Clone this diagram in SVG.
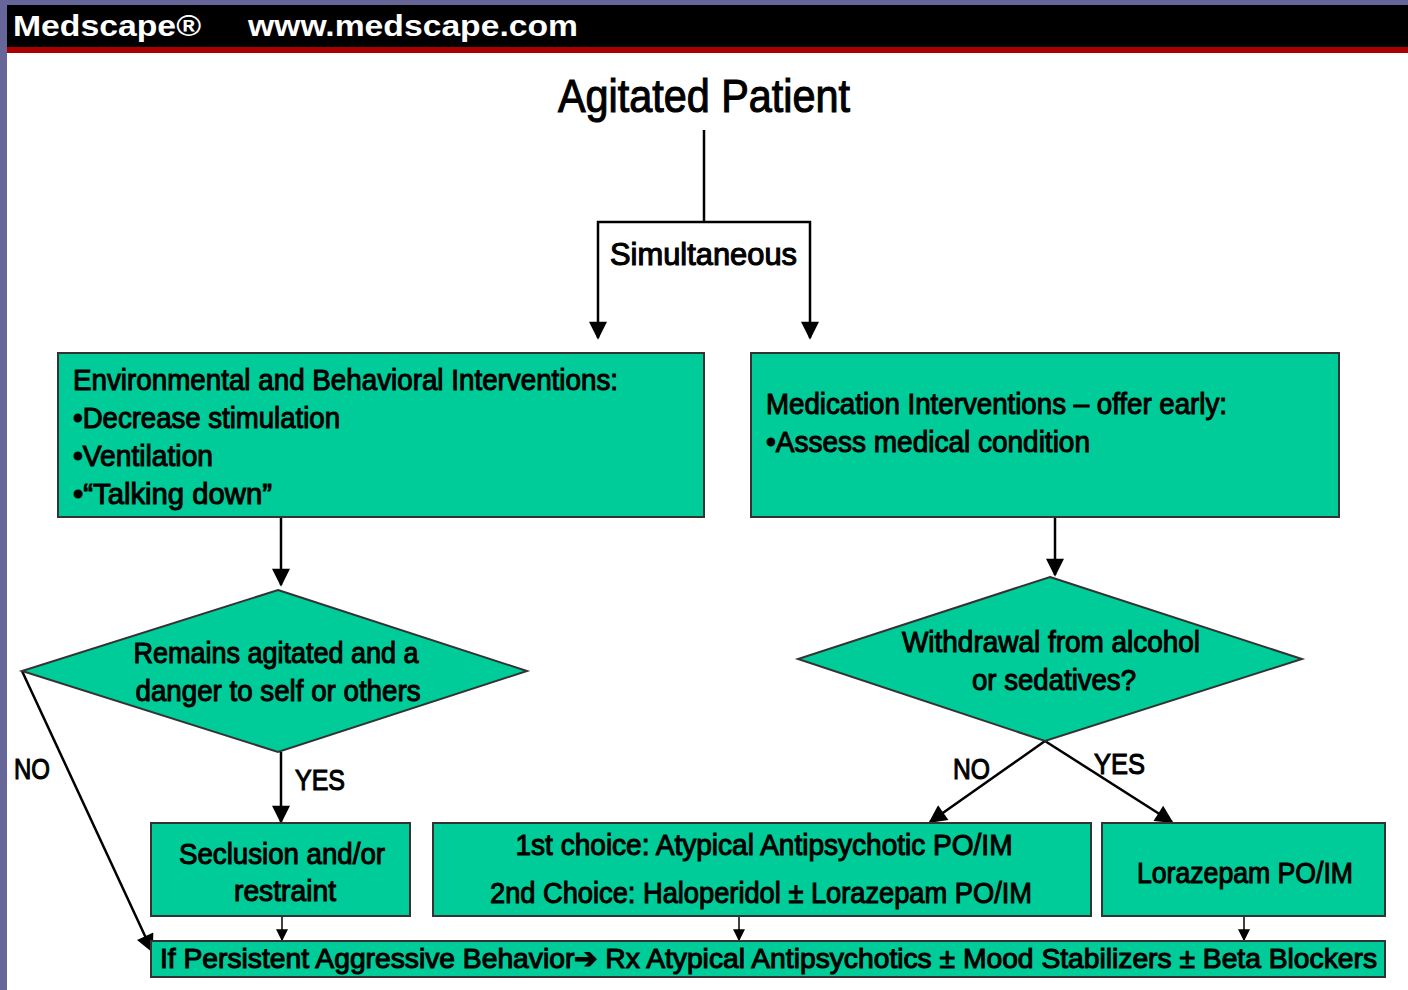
<svg xmlns="http://www.w3.org/2000/svg" width="1408" height="990" viewBox="0 0 1408 990">
  <style>
    .node { fill: #00cc99; stroke: #333333; stroke-width: 2; }
    .t { font-family: "Liberation Sans", Arial, sans-serif; fill: #000; stroke: #000; stroke-width: 1.1; }
    .lbl { font-size: 30px; }
    .wire { fill: none; stroke: #000; stroke-width: 2.5; }
    .thin { fill: none; stroke: #000; stroke-width: 1.5; }
  </style>
  <defs>
    <marker id="ahL" viewBox="0 0 10 10" refX="9" refY="5" markerWidth="20" markerHeight="18" markerUnits="userSpaceOnUse" orient="auto">
      <path d="M0,0 L10,5 L0,10 Z" fill="#000"/>
    </marker>
    <marker id="ahS" viewBox="0 0 10 10" refX="9" refY="5" markerWidth="13" markerHeight="12" markerUnits="userSpaceOnUse" orient="auto">
      <path d="M0,0 L10,5 L0,10 Z" fill="#000"/>
    </marker>
  </defs>

  <!-- page frame and header band -->
  <rect x="0" y="0" width="1408" height="990" fill="#ffffff"/>
  <rect x="0" y="0" width="1408" height="5" fill="#666699"/>
  <rect x="0" y="0" width="7" height="990" fill="#666699"/>
  <rect x="7" y="5" width="1401" height="42" fill="#000000"/>
  <rect x="7" y="47" width="1401" height="6" fill="#aa0000"/>
  <g id="header" font-family="Liberation Sans, Arial, sans-serif" font-weight="bold" font-size="30" fill="#ffffff">
    <text x="13" y="36" textLength="188" lengthAdjust="spacingAndGlyphs">Medscape®</text>
    <text x="248" y="36" textLength="330" lengthAdjust="spacingAndGlyphs">www.medscape.com</text>
  </g>

  <!-- title -->
  <g id="title">
    <text class="t" x="558" y="112" font-size="46" textLength="292" lengthAdjust="spacingAndGlyphs">Agitated Patient</text>
  </g>

  <!-- connectors -->
  <g id="connectors">
    <path class="wire" d="M704,130 V222"/>
    <path class="wire" d="M704,222 H598 V338" marker-end="url(#ahL)"/>
    <path class="wire" d="M704,222 H810 V338" marker-end="url(#ahL)"/>
    <path class="wire" d="M281,517 V585" marker-end="url(#ahL)"/>
    <path class="wire" d="M1055,517 V575" marker-end="url(#ahL)"/>
    <path class="wire" d="M281,752 V822" marker-end="url(#ahL)"/>
    <path class="wire" d="M22,671 L152,951" marker-end="url(#ahL)"/>
    <path class="wire" d="M1045,741 L930,822" marker-end="url(#ahL)"/>
    <path class="wire" d="M1045,741 L1172,822" marker-end="url(#ahL)"/>
    <path class="thin" d="M282,916 V940" marker-end="url(#ahS)"/>
    <path class="thin" d="M739,916 V940" marker-end="url(#ahS)"/>
    <path class="thin" d="M1244,916 V940" marker-end="url(#ahS)"/>
    <text class="t" x="610" y="265" font-size="31" textLength="187" lengthAdjust="spacingAndGlyphs">Simultaneous</text>
    <text class="t lbl" x="295" y="790" textLength="50" lengthAdjust="spacingAndGlyphs">YES</text>
    <text class="t lbl" x="14" y="779" textLength="36" lengthAdjust="spacingAndGlyphs">NO</text>
    <text class="t lbl" x="953" y="779" textLength="37" lengthAdjust="spacingAndGlyphs">NO</text>
    <text class="t lbl" x="1094" y="774" textLength="51" lengthAdjust="spacingAndGlyphs">YES</text>
  </g>

  <!-- nodes -->
  <g id="env-behavioral">
    <rect class="node" x="58" y="353" width="646" height="164"/>
    <text class="t lbl" x="73" y="390" textLength="545" lengthAdjust="spacingAndGlyphs">Environmental and Behavioral Interventions:</text>
    <text class="t lbl" x="73" y="428" textLength="267" lengthAdjust="spacingAndGlyphs">•Decrease stimulation</text>
    <text class="t lbl" x="73" y="466" textLength="140" lengthAdjust="spacingAndGlyphs">•Ventilation</text>
    <text class="t lbl" x="73" y="504" textLength="199" lengthAdjust="spacingAndGlyphs">•“Talking down”</text>
  </g>

  <g id="medication">
    <rect class="node" x="751" y="353" width="588" height="164"/>
    <text class="t lbl" x="766" y="414" textLength="461" lengthAdjust="spacingAndGlyphs">Medication Interventions – offer early:</text>
    <text class="t lbl" x="766" y="452" textLength="324" lengthAdjust="spacingAndGlyphs">•Assess medical condition</text>
  </g>

  <g id="danger-decision">
    <polygon class="node" points="278,590 527,671 278,752 22,671"/>
    <text class="t lbl" x="276" y="663" text-anchor="middle" textLength="285" lengthAdjust="spacingAndGlyphs">Remains agitated and a</text>
    <text class="t lbl" x="278" y="701" text-anchor="middle" textLength="285" lengthAdjust="spacingAndGlyphs">danger to self or others</text>
  </g>

  <g id="withdrawal-decision">
    <polygon class="node" points="1050,577 1302,659 1045,741 798,659"/>
    <text class="t lbl" x="1051" y="652" text-anchor="middle" textLength="298" lengthAdjust="spacingAndGlyphs">Withdrawal from alcohol</text>
    <text class="t lbl" x="1054" y="690" text-anchor="middle" textLength="164" lengthAdjust="spacingAndGlyphs">or sedatives?</text>
  </g>

  <g id="seclusion">
    <rect class="node" x="151" y="823" width="259" height="93"/>
    <text class="t lbl" x="282" y="864" text-anchor="middle" textLength="206" lengthAdjust="spacingAndGlyphs">Seclusion and/or</text>
    <text class="t lbl" x="285" y="901" text-anchor="middle" textLength="102" lengthAdjust="spacingAndGlyphs">restraint</text>
  </g>

  <g id="antipsychotic">
    <rect class="node" x="433" y="823" width="658" height="93"/>
    <text class="t lbl" x="764" y="855" text-anchor="middle" textLength="497" lengthAdjust="spacingAndGlyphs">1st choice: Atypical Antipsychotic PO/IM</text>
    <text class="t lbl" x="761" y="903" text-anchor="middle" textLength="542" lengthAdjust="spacingAndGlyphs">2nd Choice: Haloperidol ± Lorazepam PO/IM</text>
  </g>

  <g id="lorazepam">
    <rect class="node" x="1102" y="823" width="283" height="93"/>
    <text class="t lbl" x="1245" y="883" text-anchor="middle" textLength="216" lengthAdjust="spacingAndGlyphs">Lorazepam PO/IM</text>
  </g>

  <g id="persistent">
    <rect class="node" x="151" y="941" width="1234" height="36"/>
    <text class="t" x="160" y="968" font-size="28" textLength="1217" lengthAdjust="spacingAndGlyphs">If Persistent Aggressive Behavior➔ Rx Atypical Antipsychotics ± Mood Stabilizers ± Beta Blockers</text>
  </g>
</svg>
